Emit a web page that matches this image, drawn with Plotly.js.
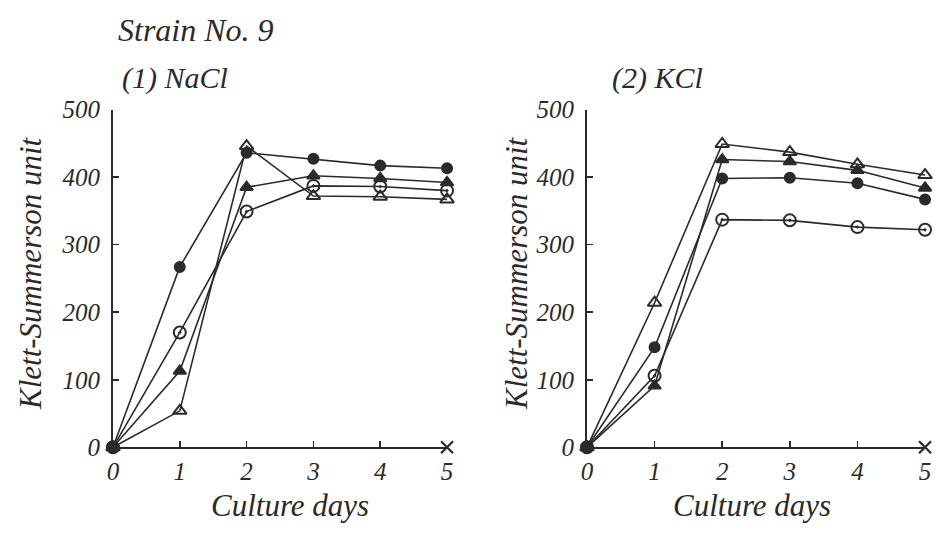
<!DOCTYPE html>
<html><head><meta charset="utf-8">
<script src="https://cdn.plot.ly/plotly-3.0.1.min.js"></script>
<style>html,body{margin:0;padding:0;background:#fff}#c{width:936px;height:537px}</style>
</head><body><div id="c"></div>
<script>
const days = [0, 1, 2, 3, 4, 5];
const tickVals = [0, 100, 200, 300, 400, 500];
const tickText = ['0', '100', '200', '300', '400', '500'];

// (1) NaCl
const naclFilledCircle   = [0, 267, 436, 427, 417, 413];
const naclOpenCircle     = [0, 170, 349, 387, 386, 380];
const naclFilledTriangle = [0, 113, 385, 402, 398, 392];
const naclOpenTriangle   = [0, 54, 446, 372, 371, 367];
// (2) KCl
const kclOpenTriangle    = [0, 214, 449, 437, 419, 403];
const kclFilledTriangle  = [0, 91, 426, 423, 410, 384];
const kclFilledCircle    = [0, 148, 398, 399, 391, 367];
const kclOpenCircle      = [0, 106, 337, 336, 326, 322];
// control marker (x) at day 5
const controlDays = [5];
const controlVals = [0];

const ink = '#2a2a2a';
const hand = 'Liberation Serif';

function tr(y, sym, xa, ya, size) {
  return {x: days, y: y, xaxis: xa, yaxis: ya, type: 'scatter', mode: 'lines+markers',
    line: {color: ink, width: 1.6},
    marker: {symbol: sym, size: size || 10, color: ink, line: {color: ink, width: 2}},
    cliponaxis: false, showlegend: false, hoverinfo: 'skip'};
}
function ctl(xa, ya) {
  return {x: controlDays, y: controlVals, xaxis: xa, yaxis: ya, mode: 'markers', type: 'scatter',
    marker: {symbol: 'x-thin-open', size: 12, color: ink, line: {color: ink, width: 2.2}},
    cliponaxis: false, showlegend: false, hoverinfo: 'skip'};
}
const data = [
  tr(naclFilledCircle, 'circle', 'x', 'y'),
  tr(naclOpenCircle, 'circle-open-dot', 'x', 'y', 12),
  tr(naclFilledTriangle, 'triangle-up', 'x', 'y', 11),
  tr(naclOpenTriangle, 'triangle-up-open', 'x', 'y', 12),
  tr(kclOpenTriangle, 'triangle-up-open', 'x2', 'y2', 12),
  tr(kclFilledTriangle, 'triangle-up', 'x2', 'y2', 11),
  tr(kclFilledCircle, 'circle', 'x2', 'y2'),
  tr(kclOpenCircle, 'circle-open-dot', 'x2', 'y2', 12),
  ctl('x', 'y'),
  ctl('x2', 'y2')
];

const tickFont = {family: hand, size: 25, color: ink, style: 'italic'};
function xa(dom) {
  return {domain: dom, range: [0, 5], showgrid: false, zeroline: false, showline: true,
    linecolor: ink, linewidth: 2, ticks: 'inside', ticklen: 6, tickwidth: 1.5, tickcolor: ink,
    tickvals: days, ticktext: days.map(String), tickfont: tickFont, ticklabelstandoff: 1, fixedrange: true};
}
function ya(anchor) {
  return {domain: [0.167, 0.796], range: [0, 500], showgrid: false, zeroline: false, showline: true,
    linecolor: ink, linewidth: 2, ticks: 'inside', ticklen: 6, tickwidth: 1.5, tickcolor: ink,
    tickvals: tickVals, ticktext: tickText, tickfont: tickFont, anchor: anchor, ticklabelstandoff: 6, fixedrange: true};
}
function px(x) { return x / 936; }
function py(y) { return 1 - y / 537; }
const f = (s) => ({family: hand, size: s, color: ink, style: 'italic'});

const layout = {
  width: 936, height: 537, margin: {l: 0, r: 0, t: 0, b: 0},
  paper_bgcolor: '#fff', plot_bgcolor: '#fff',
  xaxis: Object.assign(xa([0.1207, 0.4776]), {anchor: 'y'}),
  yaxis: ya('x'),
  xaxis2: Object.assign(xa([0.6271, 0.9883]), {anchor: 'y2'}),
  yaxis2: ya('x2'),
  annotations: [
    {text: 'Strain No. 9', x: px(116), y: py(30), xanchor: 'left', yanchor: 'middle', font: f(32)},
    {text: '(1) NaCl', x: px(120), y: py(78), xanchor: 'left', yanchor: 'middle', font: f(30)},
    {text: '(2) KCl', x: px(610), y: py(78), xanchor: 'left', yanchor: 'middle', font: f(30)},
    {text: 'Klett-Summerson unit', x: px(30), y: py(273), textangle: -90, xanchor: 'center', yanchor: 'middle', font: f(31)},
    {text: 'Klett-Summerson unit', x: px(516), y: py(273), textangle: -90, xanchor: 'center', yanchor: 'middle', font: f(31)},
    {text: 'Culture days', x: px(290), y: py(505), xanchor: 'center', yanchor: 'middle', font: f(31)},
    {text: 'Culture days', x: px(752), y: py(505), xanchor: 'center', yanchor: 'middle', font: f(31)}
  ].map(a => Object.assign({xref: 'paper', yref: 'paper', showarrow: false}, a))
};

Plotly.newPlot('c', data, layout, {staticPlot: true, displayModeBar: false});
</script></body></html>
